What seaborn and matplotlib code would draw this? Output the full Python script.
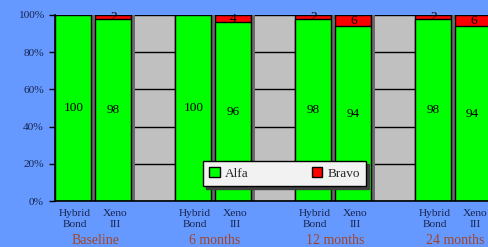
import pandas as pd
import matplotlib.pyplot as plt
import matplotlib.patheffects as pe
from matplotlib.patches import Patch
import seaborn as sns

# Values
groups = ['Baseline', '6 months', '12 months', '24 months']
materials = ['Hybrid\nBond', 'Xeno\nIII']
alfa = [100, 98, 100, 96, 98, 94, 98, 94]
bravo = [0, 2, 0, 4, 2, 6, 2, 6]

# Each group takes two slots plus one empty slot
pos = [3 * g + m for g in range(len(groups)) for m in range(len(materials))]
df = pd.DataFrame({'pos': pos, 'alfa': alfa, 'bravo': bravo})
df['total'] = df['alfa'] + df['bravo']
df['label'] = [materials[m] for g in range(len(groups)) for m in range(len(materials))]

sns.set_style('white')
plt.rcParams['font.family'] = ['Liberation Serif', 'DejaVu Serif']

navy = '#16244f'
fig = plt.figure(figsize=(4.89, 2.47), dpi=100, facecolor='#6699ff')
ax = fig.add_axes([55 / 489, 46 / 247, 434 / 489, 186 / 247])
ax.set_facecolor('#c0c0c0')

# Bravo stacked on top: draw total in red, then alfa in green
sns.barplot(data=df, x='pos', y='total', native_scale=True, width=0.9,
            color='#ff0000', saturation=1, edgecolor='black', linewidth=1,
            errorbar=None, ax=ax, zorder=3)
sns.barplot(data=df, x='pos', y='alfa', native_scale=True, width=0.9,
            color='#00ff00', saturation=1, edgecolor='black', linewidth=1,
            errorbar=None, ax=ax, zorder=3)

for p in ax.patches:
    p.set_x(p.get_x() - 0.04)
    p.set_path_effects([pe.SimplePatchShadow(offset=(2.5, 0), shadow_rgbFace='#6a6a6a', alpha=1),
                        pe.Normal()])

ax.bar_label(ax.containers[1], labels=[str(v) for v in alfa], label_type='center',
             fontsize=9.5, color='black', zorder=5)
for x, a, b in zip(pos, alfa, bravo):
    if b > 0:
        ax.text(x - 0.04, a + b / 2, str(b), ha='center', va='center',
                fontsize=9.5, color='black', zorder=5)

ax.set_xlim(-0.5, -0.5 + 434 / 40)
ax.set_ylim(0, 100)
ax.set_yticks(range(0, 101, 20))
ax.set_yticklabels([f'{v}%' for v in range(0, 101, 20)])
ax.yaxis.grid(True, color='black', linewidth=1, zorder=0)
ax.set_axisbelow(True)

ax.set_xticks(pos)
ax.set_xticklabels(df['label'])
ax.set_xticks([1.5, 2.5, 4.5, 5.5, 7.5, 8.5], minor=True)
ax.tick_params(axis='x', which='major', length=0, pad=6, labelsize=8.2, labelcolor=navy)
ax.tick_params(axis='x', which='minor', length=4, width=1, color='black', direction='out')
ax.tick_params(axis='y', length=4, width=1, color='black', direction='out', pad=4,
               labelsize=8.2, labelcolor=navy, left=True)
ax.set_xlabel('')
ax.set_ylabel('')

for s in ['top', 'right']:
    ax.spines[s].set_visible(False)
for s in ['left', 'bottom']:
    ax.spines[s].set_color('black')
    ax.spines[s].set_linewidth(1.2)
    ax.spines[s].set_zorder(6)

for g, name in enumerate(groups):
    ax.text(3 * g + 0.5, -0.215, name, transform=ax.get_xaxis_transform(),
            ha='center', va='center', fontsize=10, color='#a0452a', clip_on=False)

handles = [Patch(facecolor='#00ff00', edgecolor='black', label='Alfa'),
           Patch(facecolor='#ff0000', edgecolor='black', label='Bravo')]
leg = ax.legend(handles=handles, ncol=2, loc='center', bbox_to_anchor=(0.529, 0.148),
                fontsize=9.5, frameon=True, fancybox=False, shadow={'color': '#404040', 'alpha': 1},
                handlelength=0.8, handleheight=0.8, handletextpad=0.4, columnspacing=4.8,
                borderpad=0.45)
leg.get_frame().set_facecolor('#f2f2f2')
leg.get_frame().set_edgecolor('black')
leg.get_frame().set_linewidth(1)
leg.set_zorder(7)

fig.savefig('out.png', dpi=100, facecolor=fig.get_facecolor())
